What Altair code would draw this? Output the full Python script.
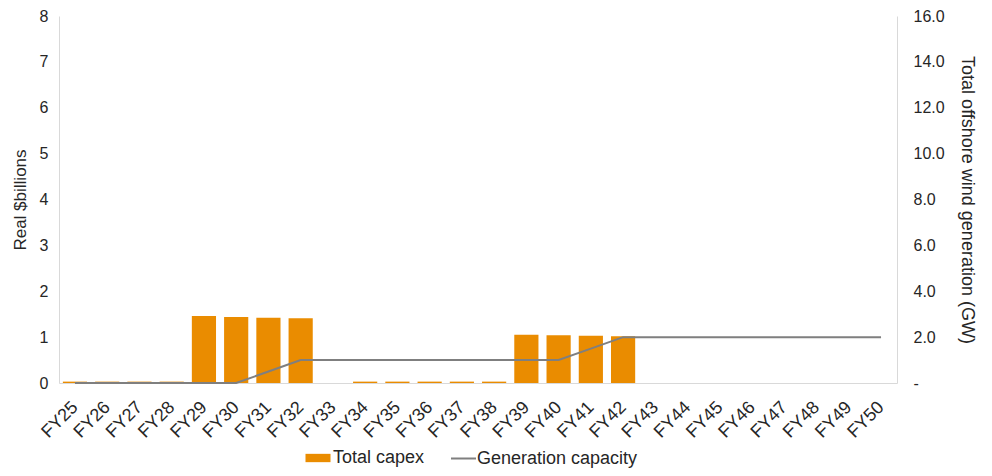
import altair as alt
import pandas as pd

years = ["FY25","FY26","FY27","FY28","FY29","FY30","FY31","FY32","FY33","FY34","FY35","FY36","FY37",
         "FY38","FY39","FY40","FY41","FY42","FY43","FY44","FY45","FY46","FY47","FY48","FY49","FY50"]
capex = [0.03,0.03,0.03,0.03,1.46,1.44,1.42,1.41,0.0,0.03,0.03,0.03,0.03,
         0.03,1.05,1.04,1.03,1.02,0,0,0,0,0,0,0,0]
capacity = [0,0,0,0,0,0,0.5,1.0,1.0,1.0,1.0,1.0,1.0,
            1.0,1.0,1.0,1.5,2.0,2.0,2.0,2.0,2.0,2.0,2.0,2.0,2.0]

df = pd.DataFrame({"year": years, "capex": capex, "capacity": capacity,
                   "s1": "Total capex", "s2": "Generation capacity"})

FONT = "Liberation Sans"
TXT = "#262626"
AX = "#d9d9d9"
FS = 18
YFS = 16

x = alt.X("year:N", sort=years, title=None,
          scale=alt.Scale(paddingInner=0.25, paddingOuter=0.12),
          axis=alt.Axis(labelAngle=-45, ticks=False, domainColor=AX, labelFontSize=FS,
                        labelColor=TXT, labelFont=FONT, labelPadding=15, labelOffset=-6))

bars = alt.Chart(df).mark_bar(color="#EA8C00").encode(
    x=x,
    y=alt.Y("capex:Q", title="Real $billions",
            scale=alt.Scale(domain=[0, 8]),
            axis=alt.Axis(values=[0,1,2,3,4,5,6,7,8], grid=False, ticks=False, domainColor=AX,
                          labelFontSize=YFS, labelColor=TXT, labelFont=FONT, labelPadding=11,
                          titleFontSize=17, titleColor=TXT, titleFont=FONT, titleFontWeight="normal",
                          titlePadding=10)),
    fill=alt.Fill("s1:N", title=None,
                  scale=alt.Scale(range=["#EA8C00"]),
                  legend=alt.Legend(orient="none", legendX=250, legendY=433,
                                    symbolType="M-1.5,-0.5L1.5,-0.5L1.5,0.5L-1.5,0.5Z",
                                    symbolSize=278, symbolStrokeWidth=0, labelFontSize=FS,
                                    labelFont=FONT, labelColor=TXT, labelOffset=6, labelLimit=0)),
)

line = alt.Chart(df).mark_line(color="#7f7f7f", strokeWidth=2).encode(
    x=x,
    y=alt.Y("capacity:Q", title="Total offshore wind generation (GW)",
            scale=alt.Scale(domain=[0, 16]),
            axis=alt.Axis(orient="right", values=[0,2,4,6,8,10,12,14,16], grid=False, ticks=False,
                          domainColor=AX,
                          labelExpr="datum.value == 0 ? '-' : format(datum.value, '.1f')",
                          labelFontSize=YFS, labelColor=TXT, labelFont=FONT, labelPadding=16,
                          titleFontSize=FS, titleColor=TXT, titleFont=FONT, titleFontWeight="normal",
                          titlePadding=13)),
    stroke=alt.Stroke("s2:N", title=None,
                      scale=alt.Scale(range=["#7f7f7f"]),
                      legend=alt.Legend(orient="none", legendX=395, legendY=433,
                                        symbolType="M-1.5,0L1.5,0", symbolSize=278,
                                        symbolStrokeWidth=2, labelFontSize=FS,
                                        labelFont=FONT, labelColor=TXT, labelOffset=4, labelLimit=0)),
)

chart = alt.layer(bars, line).resolve_scale(y="independent", fill="independent", stroke="independent").properties(
    width=838, height=367,
    autosize=alt.AutoSizeParams(type="none"),
    padding={"left": 51, "top": 8, "right": 87, "bottom": 85},
).configure_view(stroke=None)

chart.save("out.html", embed_options={"renderer": "svg", "actions": False})
